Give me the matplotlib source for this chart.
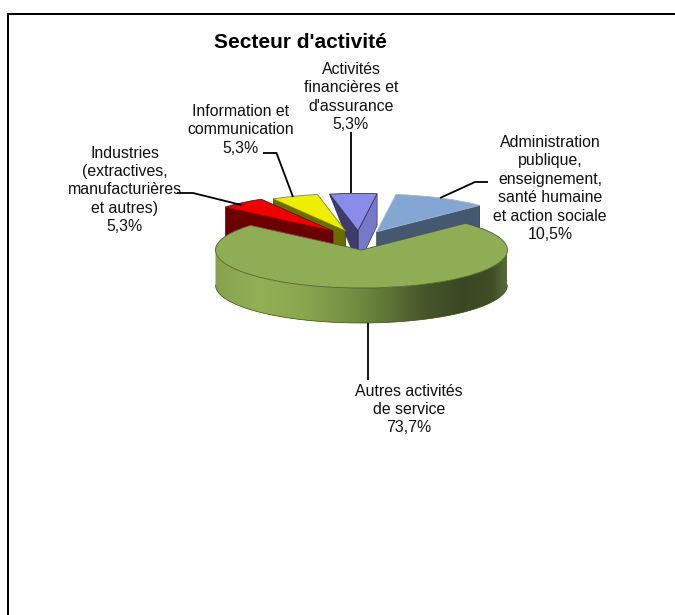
import numpy as np
import matplotlib
matplotlib.use('Agg')
import matplotlib.pyplot as plt
from matplotlib.patches import Polygon
from matplotlib.colors import LinearSegmentedColormap

# data, anticlockwise from the big slice
sectors = ['Autres activités\nde service',
           'Administration\npublique,\nenseignement,\nsanté humaine\net action sociale',
           'Activités\nfinancières et\nd\'assurance',
           'Information et\ncommunication',
           'Industries\n(extractives,\nmanufacturières\net autres)']
shares = [73.7, 10.5, 5.3, 5.3, 5.3]
share_labels = ['73,7%', '10,5%', '5,3%', '5,3%', '5,3%']

# style
top_colors = ['#8fad55', '#83a6d2', '#8b8bea', '#eeee00', '#ee0000']
wall_colors = ['#8fad55', '#44586f', '#3c3c6e', '#6b6b00', '#6b0000']
edge_colors = ['#4f5f2c', '#9fb6d6', '#33335c', '#8a8a10', '#8a0000']

# layout in pixels of the picture
W, H = 675, 615
CX, CY, RX, RY = 361.5, 250, 146, 38
DEPTH = 35 / RY
START = 139.5
shift_x = [0, 0.104, -0.024, -0.108, -0.195]
shift_y = [0, 0.48, 0.51, 0.50, 0.50]
radii = [1, 0.99, 0.98, 0.98, 0.97]
label_pos = [(408.8, 409.5), (550, 188.5), (351, 97), (240.8, 130), (125, 190)]
leaders = [[(368, 323), (368, 380)],
           [(440, 198), (475, 182), (488, 182)],
           [(351.5, 193), (351.5, 132)],
           [(293, 197), (276.5, 153), (263, 153)],
           [(241.5, 205), (193, 193), (177, 193)]]


def to_data(x, y):
    return (x - CX) / RX, (CY - y) / RY


fig = plt.figure(figsize=(W / 100, H / 100), dpi=100)
ax = fig.add_axes([0, 0, 1, 1])

wedges, _ = ax.pie(shares, startangle=START, colors=top_colors, radius=1,
                   wedgeprops={'linewidth': 0.6})

# order of drawing: blue at the back, green in front
order_z = [20, 5, 8, 11, 14]
for i, w in enumerate(wedges):
    w.set_center((shift_x[i], shift_y[i]))
    w.set_radius(radii[i])
    w.set_edgecolor(edge_colors[i])
    w.set_zorder(order_z[i])


def cut_wall(i, angle, color, outer_depth=DEPTH, zoff=-1):
    # flat face going from the slice tip to its rim
    cx, cy = wedges[i].center
    r = wedges[i].r
    px = cx + r * np.cos(np.radians(angle))
    py = cy + r * np.sin(np.radians(angle))
    ax.fill([cx, px, px, cx], [cy, py, py - outer_depth, cy - DEPTH],
            color=color, ec='#222222', lw=0.4, zorder=order_z[i] + zoff)


cut_wall(1, wedges[1].theta1, wall_colors[1])
cut_wall(2, wedges[2].theta1, '#7878c8', outer_depth=32 / RY, zoff=-2)
cut_wall(2, wedges[2].theta2, wall_colors[2], outer_depth=0.02)
cut_wall(3, wedges[3].theta2, wall_colors[3])
cut_wall(4, wedges[4].theta2, wall_colors[4])

# front rim of the big slice, shaded from left to right
rim_cmap = LinearSegmentedColormap.from_list('rim', [
    (0.0, '#87a24e'), (0.15, '#93b055'), (0.3, '#8aa750'), (0.5, '#6f8a40'),
    (0.72, '#46562a'), (0.85, '#3a4722'), (0.95, '#3f4d26'), (1.0, '#5a6c3a')])
ang = np.radians(np.linspace(180, 360, 241))
xs = np.cos(ang)
ys = np.sin(ang)
outline = np.column_stack([np.r_[xs, xs[::-1]], np.r_[ys - DEPTH, ys[::-1]]])
rim_shape = Polygon(outline, closed=True, fc='none', ec='none', zorder=15)
ax.add_patch(rim_shape)
rim = ax.imshow(np.linspace(0, 1, 512)[None, :], cmap=rim_cmap, aspect='auto',
                extent=(-1, 1, -1 - DEPTH, 0.2), interpolation='bilinear', zorder=15)
rim.set_clip_path(rim_shape)
ax.plot(xs, ys - DEPTH, color='#3a4722', lw=0.5, zorder=16)
wedges[0].set_zorder(17)

ax.set_aspect('auto')
ax.set_xlim(to_data(0, 0)[0], to_data(W, 0)[0])
ax.set_ylim(to_data(0, H)[1], to_data(0, 0)[1])
ax.set_axis_off()

# leader lines
for pts in leaders:
    dx, dy = zip(*[to_data(*p) for p in pts])
    ax.plot(dx, dy, color='black', lw=1.3, zorder=25, solid_capstyle='butt',
            solid_joinstyle='miter')

# labels
for name, pct, pos in zip(sectors, share_labels, label_pos):
    tx, ty = to_data(*pos)
    ax.text(tx, ty, name + '\n' + pct, family='Liberation Sans', fontsize=11.45,
            ha='center', va='center', multialignment='center', linespacing=1.29,
            color='#111111', zorder=30)

tx, ty = to_data(300, 42.5)
ax.text(tx, ty, "Secteur d'activité", family='Liberation Sans', fontsize=15,
        fontweight='bold', ha='center', va='center', zorder=30)

# left and top border only
bx, by = zip(*[to_data(*p) for p in [(8, H), (8, 14), (W, 14)]])
ax.plot(bx, by, color='black', lw=1.45, solid_joinstyle='miter', zorder=30)

fig.savefig('out.png', dpi=100)
